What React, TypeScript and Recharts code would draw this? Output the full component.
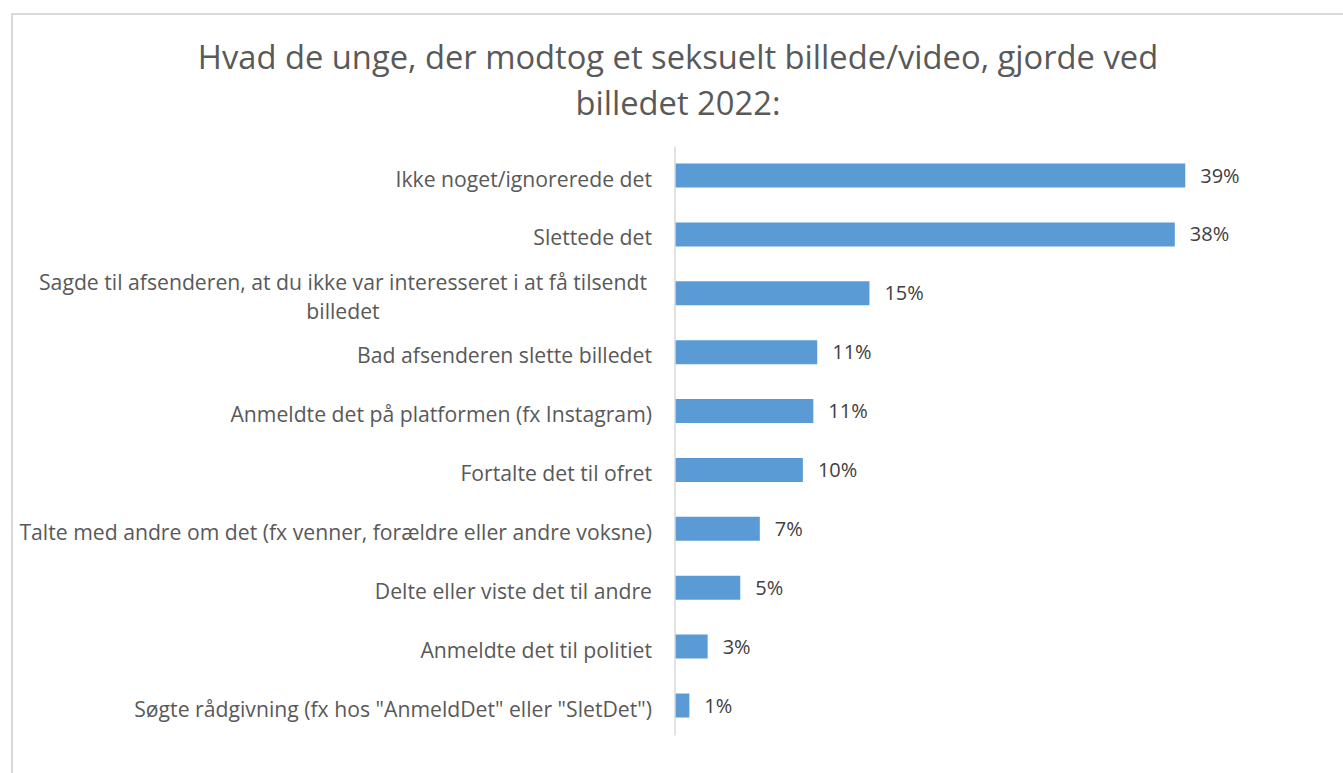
import React from 'react';
import { BarChart, Bar, XAxis, YAxis, LabelList } from 'recharts';

const titleLines = [
  'Hvad de unge, der modtog et seksuelt billede/video, gjorde ved',
  'billedet 2022:',
];

const categories = [
  'Ikke noget/ignorerede det',
  'Slettede det',
  'Sagde til afsenderen, at du ikke var interesseret i at få tilsendt\nbilledet',
  'Bad afsenderen slette billedet',
  'Anmeldte det på platformen (fx Instagram)',
  'Fortalte det til ofret',
  'Talte med andre om det (fx venner, forældre eller andre voksne)',
  'Delte eller viste det til andre',
  'Anmeldte det til politiet',
  'Søgte rådgivning (fx hos "AnmeldDet" eller "SletDet")',
];

const values = [39.1, 38.3, 14.9, 10.9, 10.6, 9.8, 6.5, 5.0, 2.5, 1.1];

const data = categories.map((name, i) => ({ name, value: values[i] }));

const FONT = '"Open Sans", sans-serif';
const CAT_SIZE = 21.2;

let ctx: CanvasRenderingContext2D | null = null;
function measure(text: string, size: number) {
  if (!ctx) {
    const c = document.createElement('canvas');
    ctx = c.getContext('2d');
  }
  if (!ctx) return text.length * size * 0.5;
  ctx.font = `${size}px "Open Sans"`;
  return ctx.measureText(text).width;
}

const CategoryTick = (props: any) => {
  const { x, y, payload } = props;
  const lines = String(payload.value).split('\n');
  if (lines.length === 1) {
    return (
      <text x={x} y={y} dy="0.5em" textAnchor="end" fill="#595959" fontSize={CAT_SIZE} fontFamily={FONT}>
        {lines[0]}
      </text>
    );
  }
  const w = Math.max(...lines.map((l) => measure(l, CAT_SIZE)));
  const cx = x - 5 - w / 2;
  return (
    <g>
      {lines.map((l, i) => (
        <text key={i} x={cx} y={y - 11 + i * 29} dy="0.35em" textAnchor="middle" fill="#595959" fontSize={CAT_SIZE} fontFamily={FONT}>
          {l}
        </text>
      ))}
    </g>
  );
};

export default function App() {
  return (
    <div style={{ position: 'absolute', left: 0, top: 0, width: 1343, height: 773, background: '#fff', overflow: 'hidden' }}>
      <div style={{ position: 'absolute', left: 11, top: 13, width: 1340, height: 770, border: '2px solid #d9d9d9', boxSizing: 'border-box' }} />
      <svg width={1343} height={140} style={{ position: 'absolute', left: 0, top: 0 }}>
        {titleLines.map((t, i) => (
          <text key={i} x={678} y={69 + i * 46} textAnchor="middle" fill="#595959" fontSize={32.7} fontFamily={FONT}>
            {t}
          </text>
        ))}
      </svg>
      <div style={{ position: 'absolute', left: 0, top: 0 }}>
        <BarChart
          width={1343}
          height={773}
          data={data}
          layout="vertical"
          margin={{ top: 146.5, right: 80.75, bottom: 37.6, left: 0 }}
        >
          <XAxis type="number" domain={[0, 45]} hide />
          <YAxis
            type="category"
            dataKey="name"
            width={675}
            tickLine={false}
            tickSize={0}
            tickMargin={23}
            axisLine={{ stroke: '#d9d9d9', strokeWidth: 1.5 }}
            tick={<CategoryTick />}
            interval={0}
          />
          <Bar dataKey="value" fill="#5b9bd5" barSize={24} isAnimationActive={false}>
            <LabelList
              dataKey="value"
              position="right"
              offset={15}
              formatter={(v: any) => `${Math.round(Number(v))}%`}
              fill="#404040"
              fontSize={20}
              fontFamily={FONT}
            />
          </Bar>
        </BarChart>
      </div>
    </div>
  );
}
